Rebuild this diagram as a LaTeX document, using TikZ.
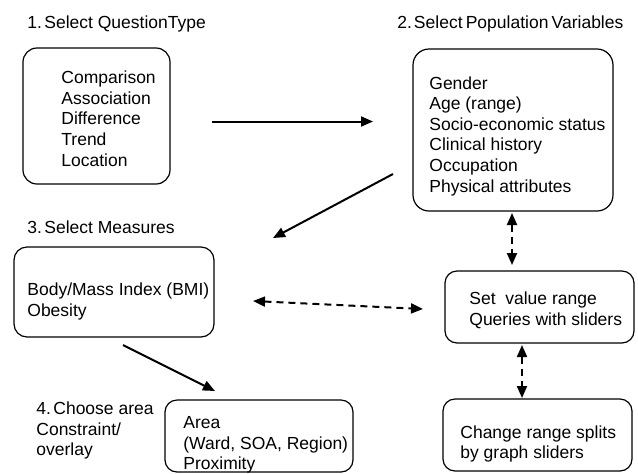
\documentclass[tikz,border=0pt]{standalone}
\usepackage{fontspec}
\setmainfont{Liberation Sans}
\usetikzlibrary{arrows.meta}
\begin{document}
\begin{tikzpicture}[x=0.5pt,y=-0.5pt,
  box/.style={draw, line width=0.6pt, rounded corners=7pt, rectangle, inner sep=0pt},
  txt/.style={inner sep=0pt, align=left, anchor=north west, font=\fontsize{8.75pt}{10.3pt}\selectfont},
  ttl/.style={inner sep=0pt, anchor=base west, font=\fontsize{8.75pt}{10.3pt}\selectfont},
  arr/.style={line width=1pt, -{Triangle[length=6pt,width=5pt]}},
  darr/.style={line width=1pt, dash pattern=on 3.5pt off 2.5pt, {Triangle[length=6pt,width=5pt]}-{Triangle[length=6pt,width=5pt]}}
]
\useasboundingbox (0,0) rectangle (638,473);
% boxes
\node[box, minimum width=73.5pt, minimum height=68pt] (b1) at (96.5,116) {};
\node[box, minimum width=100pt, minimum height=81pt, rounded corners=8pt] (b2) at (513,130) {};
\node[box, minimum width=100pt, minimum height=45pt, rounded corners=6.5pt] (b3) at (114,292) {};
\node[box, minimum width=94.5pt, minimum height=36pt, rounded corners=6pt] (bset) at (539.5,307) {};
\node[box, minimum width=94.5pt, minimum height=36pt, rounded corners=6pt] (bchg) at (537.5,435) {};
\node[box, minimum width=94pt, minimum height=36pt, rounded corners=6pt] (b4) at (259,436) {};
% titles
\node[ttl] (title1) at (27,28.3) {1.\kern1.2pt Select QuestionType};
\node[ttl] (title2) at (397,28.3) {\spaceskip=1.6pt 2.\kern1pt Select Population Variables};
\node[ttl] (title3) at (27,233.3) {3.\kern1.2pt Select Measures};
\node[txt] (title4) at (36,401.7) {4.\kern1.2pt Choose area\\Constraint/\\overlay};
% texts
\node[txt] (t1) at (61,70.7) {Comparison\\Association\\Difference\\Trend\\Location};
\node[txt] (t2) at (429,76) {Gender\\Age (range)\\Socio-economic status\\Clinical history\\Occupation\\Physical attributes};
\node[txt] (t3) at (27,282.7) {Body/Mass Index (BMI)\\Obesity};
\node[txt] (tset) at (469,291.7) {Set\ \ value range\\Queries with sliders};
\node[txt] (tchg) at (460,425) {Change range splits\\by graph sliders};
\node[txt] (t4) at (183,416) {Area\\(Ward, SOA, Region)\\Proximity};
% connector ends
\coordinate (a12s) at (212,121.5);
\coordinate (a12e) at (373,121.5);
\coordinate (a23s) at (393,174);
\coordinate (a23e) at (273,238);
\coordinate (a34s) at (123,345);
\coordinate (a34e) at (215,391);
\coordinate (ad1) at (253,301);
\coordinate (ad2) at (423,309);
\coordinate (av1s) at (512,213);
\coordinate (av1e) at (512,265);
\coordinate (av2s) at (522,345);
\coordinate (av2e) at (522,398);
% connectors
\draw[arr] (a12s) -- (a12e);
\draw[arr] (a23s) -- (a23e);
\draw[arr] (a34s) -- (a34e);
\draw[darr] (ad1) -- (ad2);
\draw[darr] (av1s) -- (av1e);
\draw[darr] (av2s) -- (av2e);
\end{tikzpicture}
\end{document}
